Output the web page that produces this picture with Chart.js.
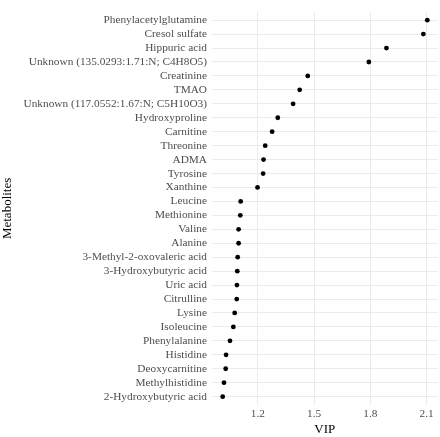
<!DOCTYPE html>
<html>
<head>
<meta charset="utf-8">
<script src="https://cdn.jsdelivr.net/npm/chart.js@4"></script>
<style>
  html, body { margin: 0; padding: 0; background: #fff; }
  #wrap { width: 440px; height: 437px; }
</style>
</head>
<body>
<div id="wrap"><canvas id="vipChart" width="440" height="437"></canvas></div>
<script>
// metabolites, top to bottom
const metabolites = [
  "Phenylacetylglutamine", "Cresol sulfate", "Hippuric acid",
  "Unknown (135.0293:1.71:N; C4H8O5)", "Creatinine", "TMAO",
  "Unknown (117.0552:1.67:N; C5H10O3)", "Hydroxyproline", "Carnitine",
  "Threonine", "ADMA", "Tyrosine", "Xanthine", "Leucine", "Methionine",
  "Valine", "Alanine", "3-Methyl-2-oxovaleric acid", "3-Hydroxybutyric acid",
  "Uric acid", "Citrulline", "Lysine", "Isoleucine", "Phenylalanine",
  "Histidine", "Deoxycarnitine", "Methylhistidine", "2-Hydroxybutyric acid"
];
const vip = [
  2.104, 2.083, 1.886, 1.792, 1.466, 1.423, 1.388, 1.306, 1.276, 1.239,
  1.230, 1.228, 1.198, 1.108, 1.106, 1.097, 1.097, 1.092, 1.090, 1.088,
  1.087, 1.076, 1.069, 1.051, 1.030, 1.028, 1.019, 1.012
];
const xTicks = [1.2, 1.5, 1.8, 2.1];

const serif = "'Liberation Serif', 'DejaVu Serif', serif";

new Chart(document.getElementById("vipChart").getContext("2d"), {
  type: "scatter",
  data: {
    datasets: [{
      data: vip.map((v, i) => ({ x: v, y: i + 1 })),
      backgroundColor: "#000",
      borderColor: "#000",
      pointRadius: 2.4,
      pointHoverRadius: 2.4,
      borderWidth: 0,
    }],
  },
  options: {
    responsive: false,
    animation: false,
    layout: { padding: { top: 1, right: 2, bottom: 0, left: 0 } },
    scales: {
      x: {
        type: "linear",
        min: 0.955,
        max: 2.159,
        afterBuildTicks: (scale) => {
          scale.ticks = xTicks.map((v) => ({ value: v }));
        },
        afterFit: (scale) => { scale.height = 32; },
        border: { display: false },
        grid: { color: "#ebebeb", lineWidth: 1, drawTicks: false },
        ticks: {
          padding: 2,
          color: "#4d4d4d",
          font: { family: serif, size: 11.3 },
          callback: (v) => v.toFixed(1),
        },
        title: {
          display: true,
          text: "VIP",
          color: "#000",
          font: { family: serif, size: 13 },
          padding: { top: 2, bottom: 0 },
        },
      },
      y: {
        type: "linear",
        reverse: true,
        min: 0.4,
        max: metabolites.length + 0.6,
        afterBuildTicks: (scale) => {
          scale.ticks = metabolites.map((_, i) => ({ value: i + 1 }));
        },
        afterFit: (scale) => { scale.width = 212; },
        border: { display: false },
        grid: { color: "#ebebeb", lineWidth: 1, drawTicks: false },
        ticks: {
          padding: 5,
          color: "#4d4d4d",
          font: { family: serif, size: 11.3 },
          autoSkip: false,
          callback: (v) => metabolites[v - 1],
        },
        title: {
          display: true,
          text: "Metabolites",
          color: "#000",
          font: { family: serif, size: 13 },
          padding: { top: 0, bottom: 0 },
        },
      },
    },
    plugins: {
      legend: { display: false },
      tooltip: { enabled: false },
    },
  },
});
</script>
</body>
</html>
